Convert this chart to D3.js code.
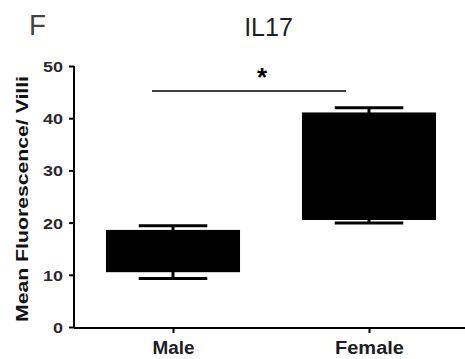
<!DOCTYPE html>
<html>
<head>
<meta charset="utf-8">
<script src="https://cdn.jsdelivr.net/npm/d3@7"></script>
<style>
  html, body { margin: 0; padding: 0; background: #fff; }
  svg { display: block; font-family: "Liberation Sans", Arial, sans-serif; }
</style>
</head>
<body>
<svg id="chart" width="465" height="359"></svg>
<script>
// ---- data ----
const categories = ["Male", "Female"];
const whiskerLow = [9.3, 19.9];
const q1 = [10.5, 20.5];
const q3 = [18.6, 41.1];
const whiskerHigh = [19.4, 42.0];
const yTicks = [0, 10, 20, 30, 40, 50];
const title = "IL17";
const panelLabel = "F";
const yLabel = "Mean Fluorescence/ Villi";
const significance = "*";

// ---- layout ----
const svg = d3.select("#chart");
const y = d3.scaleLinear().domain([0, 50]).range([327, 66]);
const x = d3.scalePoint().domain(categories).range([75, 467]).padding(0.5);
const step = x.step();
const boxW = step * 0.684;
const capW = step * 0.35;

// panel label & title
svg.append("text").attr("x", 29).attr("y", 35).attr("font-size", 30)
  .attr("fill", "#444").attr("textLength", 17).attr("lengthAdjust", "spacingAndGlyphs")
  .text(panelLabel);
svg.append("text").attr("x", 268.5).attr("y", 36).attr("text-anchor", "middle")
  .attr("font-size", 25).attr("fill", "#1d1d24").text(title);

// y axis
const yAxis = d3.axisLeft(y).tickValues(yTicks).tickSize(5).tickPadding(6);
const gy = svg.append("g").attr("transform", "translate(74,0)").call(yAxis);
gy.select(".domain").attr("stroke", "#000").attr("stroke-width", 2).attr("d", `M0,${y(50)}V${y(0)+1}`);
gy.selectAll(".tick line").attr("stroke", "#000").attr("stroke-width", 2);
gy.selectAll(".tick text").attr("font-size", 15.5).attr("font-weight", "bold").attr("fill", "#2a2a30")
  .attr("font-family", "Liberation Sans, Arial, sans-serif").attr("dy", "0.36em")
  .attr("textLength", d => String(d).length * 10).attr("lengthAdjust", "spacingAndGlyphs");

// x axis
const xAxis = d3.axisBottom(x).tickSize(5).tickPadding(8);
const gx = svg.append("g").attr("transform", `translate(0,${y(0)+1})`).call(xAxis);
gx.select(".domain").attr("stroke", "#000").attr("stroke-width", 2).attr("d", "M74,0H465");
gx.selectAll(".tick line").attr("stroke", "#000").attr("stroke-width", 2);
gx.selectAll(".tick text").attr("font-size", 18).attr("font-weight", "bold").attr("fill", "#1d1d24")
  .attr("font-family", "Liberation Sans, Arial, sans-serif")
  .attr("textLength", d => d === "Male" ? 42 : 69).attr("lengthAdjust", "spacingAndGlyphs");

// y label
svg.append("text").attr("transform", `translate(28,199) rotate(-90)`).attr("text-anchor", "middle")
  .attr("font-size", 17).attr("font-weight", "bold").attr("fill", "#111")
  .attr("textLength", 246).attr("lengthAdjust", "spacingAndGlyphs").text(yLabel);

// boxes
const data = categories.map((c, i) => ({ c, lo: whiskerLow[i], q1: q1[i], q3: q3[i], hi: whiskerHigh[i] }));
const g = svg.append("g");
g.selectAll("line.stem").data(data).join("line").attr("class", "stem")
  .attr("x1", d => x(d.c)).attr("x2", d => x(d.c))
  .attr("y1", d => y(d.hi)).attr("y2", d => y(d.lo))
  .attr("stroke", "#000").attr("stroke-width", 3);
g.selectAll("line.capHi").data(data).join("line").attr("class", "capHi")
  .attr("x1", d => x(d.c) - capW / 2).attr("x2", d => x(d.c) + capW / 2)
  .attr("y1", d => y(d.hi)).attr("y2", d => y(d.hi))
  .attr("stroke", "#000").attr("stroke-width", 3);
g.selectAll("line.capLo").data(data).join("line").attr("class", "capLo")
  .attr("x1", d => x(d.c) - capW / 2).attr("x2", d => x(d.c) + capW / 2)
  .attr("y1", d => y(d.lo)).attr("y2", d => y(d.lo))
  .attr("stroke", "#000").attr("stroke-width", 3);
g.selectAll("rect.box").data(data).join("rect").attr("class", "box")
  .attr("x", d => x(d.c) - boxW / 2).attr("width", boxW)
  .attr("y", d => y(d.q3)).attr("height", d => y(d.q1) - y(d.q3))
  .attr("fill", "#000");

// significance bar
svg.append("line").attr("x1", 152).attr("x2", 346).attr("y1", 91).attr("y2", 91)
  .attr("stroke", "#000").attr("stroke-width", 1.6);
svg.append("text").attr("x", 262).attr("y", 86).attr("text-anchor", "middle")
  .attr("font-size", 26).attr("font-weight", "bold").attr("fill", "#000").text(significance);
</script>
</body>
</html>
